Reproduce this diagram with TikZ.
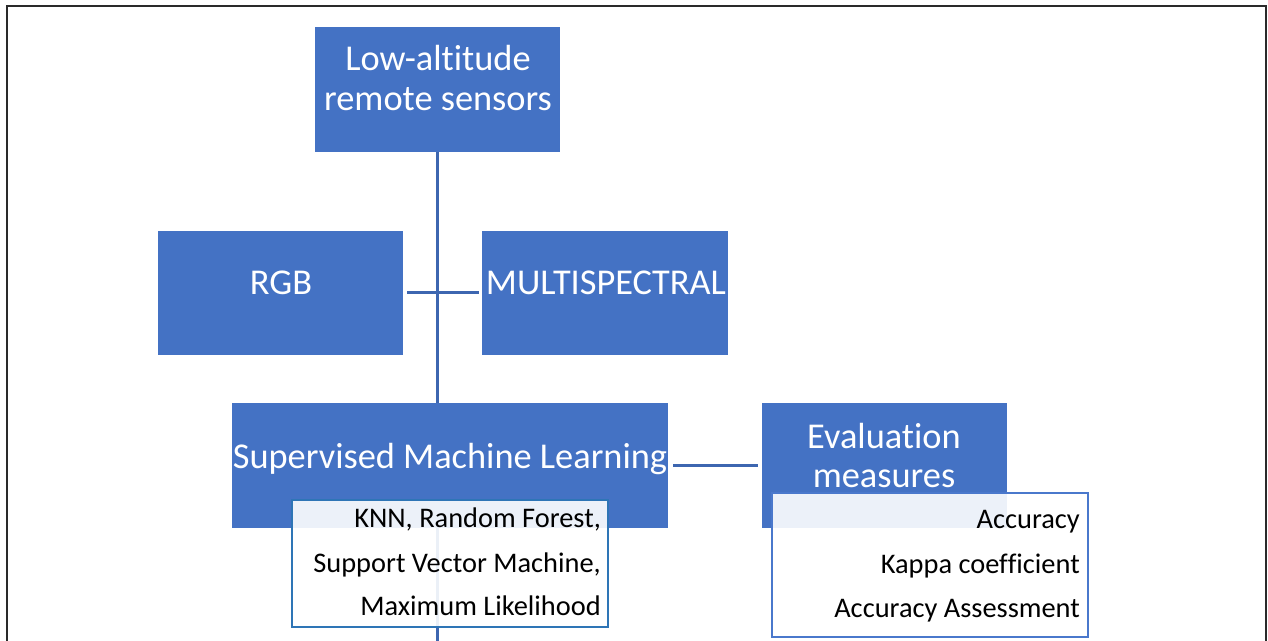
\documentclass[tikz,border=0pt]{standalone}
\usepackage{fontspec}
\setmainfont{Carlito}[Ligatures=NoCommon, RawFeature={-liga;-clig;-dlig}]
\newcommand{\nolig}{\kern0pt }
\definecolor{boxblue}{HTML}{4472C4}
\definecolor{linkblue}{HTML}{3D66B0}
\definecolor{knnborder}{HTML}{2E75B6}
\definecolor{evlborder}{HTML}{4A78CC}
\definecolor{framegray}{HTML}{2A2A2A}
\tikzset{
  bigbox/.style={draw=none, fill=boxblue, inner sep=0pt, rectangle},
  subbox/.style={rectangle, inner sep=0pt, fill=white, fill opacity=0.9, line width=2.6bp},
  bigtext/.style={text=white, inner sep=0pt, anchor=base, font=\fontsize{36.5}{40}\selectfont},
  smalltext/.style={text=black, inner sep=0pt, anchor=base east, font=\fontsize{28.5}{34}\selectfont},
  link/.style={draw=linkblue, line width=3bp},
  frameline/.style={draw=framegray, line width=2.6bp}
}
\begin{document}
\begin{tikzpicture}[x=1bp,y=-1bp]
\useasboundingbox (0,0) rectangle (1268,641);
% frame
\coordinate (fbl) at (7,645);
\coordinate (ftl) at (7,6);
\coordinate (ftr) at (1266,6);
\coordinate (fbr) at (1266,645);
\draw[frameline] (fbl) -- (ftl) -- (ftr) -- (fbr);

% main boxes
\node[bigbox, minimum width=245bp, minimum height=125bp] (low) at (437.5,89.5) {};
\node[bigbox, minimum width=245bp, minimum height=124bp] (rgb) at (280.5,293) {};
\node[bigbox, minimum width=246bp, minimum height=124bp] (multi) at (605,293) {};
\node[bigbox, minimum width=436bp, minimum height=125bp] (sml) at (450,465.5) {};
\node[bigbox, minimum width=245bp, minimum height=125bp] (eval) at (884.5,465.5) {};

% connectors
\coordinate (bot) at (437,645);
\draw[link] (low.south -| bot) -- (sml.north -| bot);
\draw[link] (sml.south -| bot) -- (bot);
\draw[link, shorten <=4bp, shorten >=3bp] (rgb.east) -- (multi.west);
\draw[link, shorten <=5bp, shorten >=4bp] (sml.east) -- (eval.west);

% texts in main boxes
\node[bigtext] (lowa) at (438,71) {Low-alt\nolig itude};
\node[bigtext] (lowb) at (438,111) {remote sensors};
\node[bigtext] (rgbt) at (281,295) {RGB};
\node[bigtext] (multit) at (606,295) {MULTISPECTRAL};
\node[bigtext] (smlt) at (450,468) {Supervised Machine Learning};
\node[bigtext] (evala) at (884,448) {Evaluat\nolig ion};
\node[bigtext] (evalb) at (884,487) {measures};

% sub boxes
\node[subbox, draw=knnborder, minimum width=316bp, minimum height=127bp] (knn) at (450,563.5) {};
\node[subbox, draw=evlborder, minimum width=316bp, minimum height=144bp] (evl) at (930,565) {};

\node[smalltext] (knna) at (601,527) {KNN, Random Forest,};
\node[smalltext] (knnb) at (601,572) {Support Vector Machine,};
\node[smalltext] (knnc) at (601,615) {Maximum Likelihood};
\node[smalltext] (evla) at (1080,528) {Accuracy};
\node[smalltext] (evlb) at (1080,573) {Kappa coef\nolig f\nolig icient};
\node[smalltext] (evlc) at (1080,617) {Accuracy Assessment};
\end{tikzpicture}
\end{document}
